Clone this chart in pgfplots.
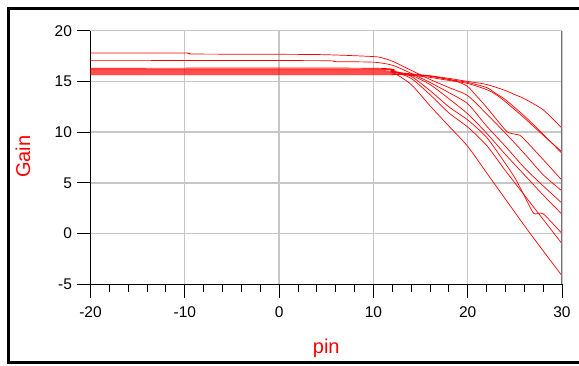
\documentclass[border=0pt]{standalone}
\usepackage{pgfplots}
\pgfplotsset{compat=1.18}
\usepackage{fontspec}
\setmainfont{Liberation Sans}
\begin{document}
\begin{tikzpicture}[x=1pt,y=1pt]
\useasboundingbox (0,0) rectangle (579,365);
\clip (0,0) rectangle (579,365);
\fill[white] (0,0) rectangle (579,365);
\draw[line width=3pt,black] (585,356.3) -- (8,356.3) -- (8,2.3) -- (585,2.3);
\begin{axis}[
  at={(90.5pt,80.7pt)}, anchor=south west,
  scale only axis, width=471.5pt, height=253.6pt,
  xmin=-20, xmax=30, ymin=-5, ymax=20,
  axis x line*=bottom, axis y line*=left,
  axis line style={-, black, line width=0.9pt},
  xtick={-20,-10,0,10,20,30}, ytick={-5,0,5,10,15,20},
  minor x tick num=4,
  tick align=outside,
  major tick length=14pt, minor tick length=8pt,
  tick style={black, line width=0.9pt},
  grid=major,
  major grid style={color=black!22, line width=1.3pt},
  /pgf/number format/assume math mode=true,
  tick label style={font=\fontsize{15.5}{18}\selectfont, black},
  xticklabel style={yshift=-4.5pt},
  yticklabel style={xshift=-1pt},
  xlabel={pin}, ylabel={Gain},
  label style={font=\fontsize{20}{24}\selectfont, red},
  xlabel style={at={(axis description cs:0.5,-0.251)}, anchor=center},
  ylabel style={at={(axis description cs:-0.143,0.503)}, anchor=center, rotate=0},
  cycle list={{red, solid}},
  every axis plot post/.append style={red, solid, line width=0.7pt, smooth, tension=0.4, no markers},
  clip=true,
]
% A
\addplot coordinates {(-20,15.65) (10,15.65) (12,15.68) (14,15.65) (16,15.55) (18,15.3) (20,15.0) (22,14.7) (24,14.1) (25,13.7) (26,13.3) (28,12.2) (30,10.4)};
% B
\addplot coordinates {(-20,15.75) (10,15.75) (12,15.75) (14,15.6) (16,15.4) (18,15.1) (20,14.8) (22,14.2) (23,13.7) (24,13.0) (26,11.4) (28,9.7) (30,8.05)};
% C
\addplot coordinates {(-20,15.85) (10,15.85) (12,15.85) (14,15.7) (16,15.5) (18,15.2) (20,14.9) (22,14.4) (23,13.8) (24,13.2) (26,11.6) (28,9.8) (30,7.9)};
% D
\addplot coordinates {(-20,15.95) (10,15.95) (12,15.9) (14,15.75) (16,15.55) (18,15.2) (19,14.95) (20,14.5) (21,13.5) (22,12.45) (24,10.2) (24.5,9.9) (25.5,9.7) (26,9.3) (28,7.3) (30,5.25)};
% E
\addplot coordinates {(-20,17.8) (-10,17.8) (-9,17.7) (4,17.65) (10,17.45) (11,17.3) (12,17.0) (14,16.1) (16,15.2) (18,14.4) (20,13.6) (22,11.8) (24,9.9) (26,7.9) (28,5.8) (30,4.2)};
% F
\addplot coordinates {(-20,17.05) (4,17.05) (6,16.95) (10,16.9) (12,16.6) (14,15.8) (16,14.9) (18,13.9) (20,12.8) (22,10.6) (24,8.6) (26,6.5) (28,4.7) (30,3.0)};
% G
\addplot coordinates {(-20,16.05) (10,16.05) (12,15.95) (14,15.6) (16,14.7) (18,13.3) (20,11.8) (22,9.9) (24,7.8) (26,5.8) (28,3.8) (30,1.9)};
% H
\addplot coordinates {(-20,16.15) (10,16.15) (12,16.05) (14,15.5) (16,14.1) (18,12.5) (20,11.2) (22,9.5) (24,6.9) (25,5.5) (25.9,3.93) (27,2.0) (28,1.95) (30,0)};
% I
\addplot coordinates {(-20,16.22) (10,16.22) (12,16.0) (14,15.3) (16,13.7) (18,11.9) (20,10.5) (22,8.7) (24,6.2) (26,3.8) (28,1.4) (30,-1.0)};
% J
\addplot coordinates {(-20,16.3) (10,16.3) (12,15.9) (14,14.7) (16,12.6) (18,10.6) (20,8.6) (22,6.0) (24,3.4) (26,0.8) (28,-1.7) (30,-4.16)};
\draw[black!55, line width=1pt] (axis cs:30,-5) -- (axis cs:30,20);
\end{axis}
\end{tikzpicture}
\end{document}
